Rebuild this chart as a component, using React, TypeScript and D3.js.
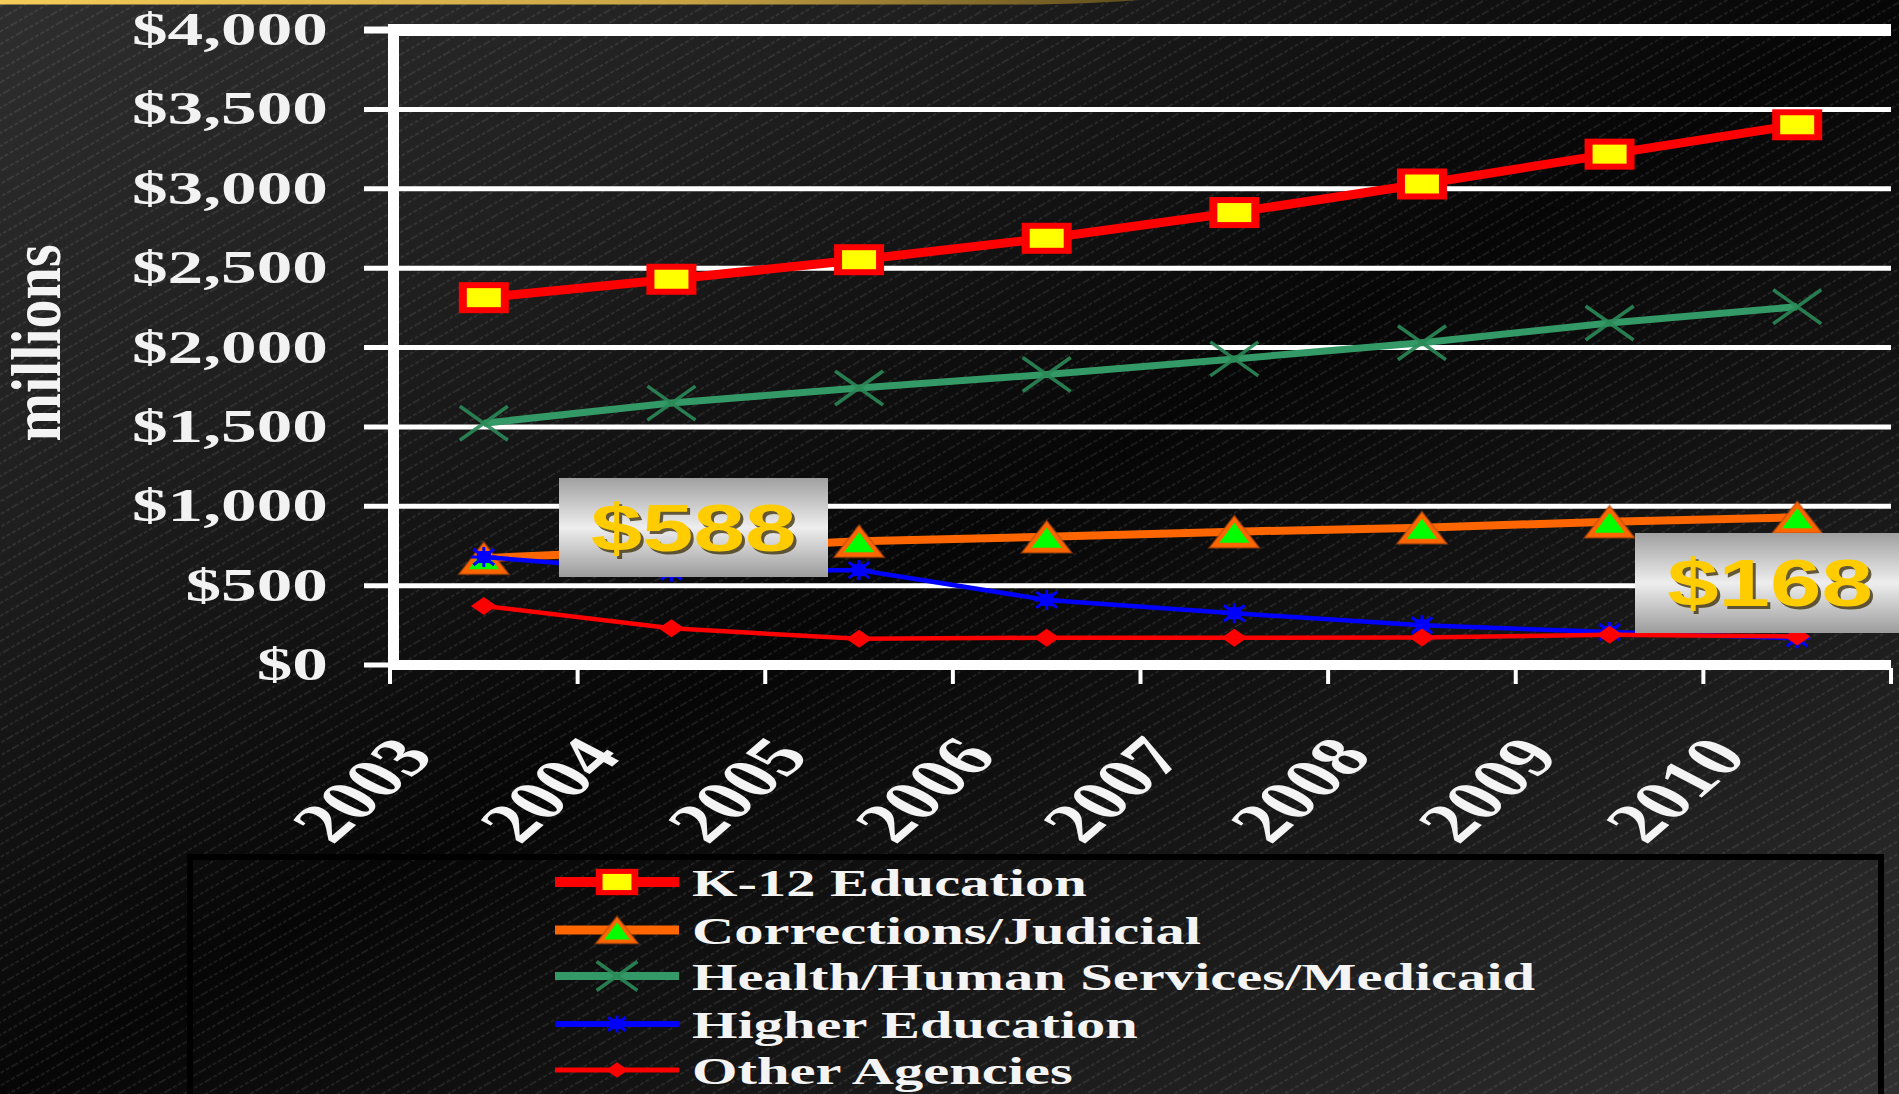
import React from 'react';
import * as d3 from 'd3';

// Fiscal years on the category axis
const years = ['2003', '2004', '2005', '2006', '2007', '2008', '2009', '2010'];

// Spending by area, $ millions
const k12Education = [2314, 2430, 2553, 2688, 2850, 3030, 3218, 3403];
const correctionsJudicial = [673, 725, 780, 808, 840, 865, 903, 930];
const healthHumanServices = [1523, 1650, 1745, 1830, 1928, 2030, 2154, 2257];
const higherEducation = [680, 588, 598, 410, 326, 250, 208, 168];
const otherAgencies = [372, 231, 165, 172, 172, 174, 190, 180];

const yTicks = [0, 500, 1000, 1500, 2000, 2500, 3000, 3500, 4000];

const seriesNames = [
  'K-12 Education',
  'Corrections/Judicial',
  'Health/Human Services/Medicaid',
  'Higher Education',
  'Other Agencies',
];

const W = 1899;
const H = 1094;
const SX = 1.5; // horizontal stretch applied to text glyphs

const x = d3.scaleBand<string>().domain(years).range([390, 1891]);
const y = d3.scaleLinear().domain([0, 4000]).range([665, 30]);
const cx = (yr: string) => (x(yr) as number) + x.bandwidth() / 2;
const money = d3.format('$,');

type Kind = 'square' | 'triangle' | 'cross' | 'star' | 'diamond';

function Marker({ kind, px, py, s = 1 }: { kind: Kind; px: number; py: number; s?: number }) {
  if (kind === 'square') {
    const ow = 50 * s, oh = 31 * s, iw = 34 * s, ih = 19 * s;
    return (
      <g>
        <rect x={px - ow / 2} y={py - oh / 2} width={ow} height={oh} fill="#ff0000" />
        <rect x={px - iw / 2} y={py - ih / 2} width={iw} height={ih} fill="#ffff00" />
      </g>
    );
  }
  if (kind === 'triangle') {
    const hw = 25 * s, hh = 16 * s;
    const ihw = 15 * s, ihh = 10 * s;
    return (
      <g>
        <path d={`M${px},${py - hh} L${px + hw},${py + hh} L${px - hw},${py + hh} Z`} fill="#ff6600" />
        <path d={`M${px},${py - hh} L${px + hw},${py + hh} L${px - hw},${py + hh} Z`} fill="none" stroke="#b04a10" strokeWidth={2} strokeOpacity={0.5} />
        <path d={`M${px},${py - ihh + 1} L${px + ihw},${py + ihh + 1} L${px - ihw},${py + ihh + 1} Z`} fill="#00ff00" />
      </g>
    );
  }
  if (kind === 'cross') {
    const hw = 24 * s, hh = 17 * s;
    return (
      <g stroke="#2a8a58" strokeWidth={3.5} strokeOpacity={0.9}>
        <line x1={px - hw} y1={py - hh} x2={px + hw} y2={py + hh} />
        <line x1={px - hw} y1={py + hh} x2={px + hw} y2={py - hh} />
      </g>
    );
  }
  if (kind === 'star') {
    const hw = 13 * s, hh = 10 * s;
    return (
      <g stroke="#0000ff" strokeWidth={3}>
        <rect x={px - 7 * s} y={py - 6 * s} width={14 * s} height={12 * s} fill="#0000ff" stroke="none" />
        <line x1={px - hw} y1={py} x2={px + hw} y2={py} />
        <line x1={px} y1={py - hh} x2={px} y2={py + hh} />
        <line x1={px - hw * 0.8} y1={py - hh * 0.8} x2={px + hw * 0.8} y2={py + hh * 0.8} />
        <line x1={px - hw * 0.8} y1={py + hh * 0.8} x2={px + hw * 0.8} y2={py - hh * 0.8} />
      </g>
    );
  }
  const hw = 13 * s, hh = 9 * s;
  return <path d={`M${px},${py - hh} L${px + hw},${py} L${px},${py + hh} L${px - hw},${py} Z`} fill="#ff0000" />;
}

const series = [
  { name: seriesNames[0], values: k12Education, color: '#ff0000', width: 9, kind: 'square' as Kind },
  { name: seriesNames[1], values: correctionsJudicial, color: '#ff6600', width: 8, kind: 'triangle' as Kind },
  { name: seriesNames[2], values: healthHumanServices, color: '#339966', width: 7, kind: 'cross' as Kind },
  { name: seriesNames[3], values: higherEducation, color: '#0000ff', width: 4.5, kind: 'star' as Kind },
  { name: seriesNames[4], values: otherAgencies, color: '#ff0000', width: 4.5, kind: 'diamond' as Kind },
];

const legendRows = [882, 930, 976, 1024, 1070];
const legendLineW = [10, 9, 8, 6, 5];

function Callout({ x0, y0, w, h, label }: { x0: number; y0: number; w: number; h: number; label: string }) {
  const tx = x0 + w / 2;
  const ty = y0 + h / 2 + 23;
  return (
    <g>
      <rect x={x0} y={y0} width={w} height={h} fill="url(#calloutFill)" />
      <text transform={`translate(${tx + 3},${ty + 3}) scale(1.4,1)`} textAnchor="middle" fontFamily="Liberation Sans, Arial, sans-serif" fontWeight="bold" fontSize={66} fill="#3a2c00" fillOpacity={0.75}>{label}</text>
      <text transform={`translate(${tx},${ty}) scale(1.4,1)`} textAnchor="middle" fontFamily="Liberation Sans, Arial, sans-serif" fontWeight="bold" fontSize={66} fill="#ffcc00">{label}</text>
    </g>
  );
}

export default function App() {
  const line = d3.line<number>().x((_, i) => cx(years[i])).y((v) => y(v));
  const plotL = 390, plotR = 1891;

  return (
    <svg width={W} height={H} viewBox={`0 0 ${W} ${H}`} style={{ position: 'absolute', left: 0, top: 0, display: 'block' }}>
      <defs>
        <linearGradient id="bg" x1="0" y1="0" x2="1" y2="1">
          <stop offset="0" stopColor="#2e2e2e" />
          <stop offset="0.25" stopColor="#1e1e1e" />
          <stop offset="0.5" stopColor="#060606" />
          <stop offset="0.75" stopColor="#1a1a1a" />
          <stop offset="1" stopColor="#303030" />
        </linearGradient>
        <pattern id="stripes" patternUnits="userSpaceOnUse" width="40" height="11" patternTransform="rotate(-30)">
          <line x1="0" y1="5.5" x2="40" y2="5.5" stroke="#ffffff" strokeOpacity="0.11" strokeWidth="1.6" strokeDasharray="4 2" />
        </pattern>
        <linearGradient id="gold" x1="0" y1="0" x2="1" y2="0">
          <stop offset="0" stopColor="#f4cc58" />
          <stop offset="0.6" stopColor="#c9a445" />
          <stop offset="1" stopColor="#5e4d1c" />
        </linearGradient>
        <linearGradient id="calloutFill" x1="0" y1="0" x2="0" y2="1">
          <stop offset="0" stopColor="#a0a0a0" />
          <stop offset="0.5" stopColor="#eeeeee" />
          <stop offset="1" stopColor="#9c9c9c" />
        </linearGradient>
      </defs>

      {/* backdrop */}
      <rect x={0} y={0} width={W} height={H} fill="url(#bg)" />
      <rect x={0} y={0} width={W} height={H} fill="url(#stripes)" />
      <path d="M0,0 H1140 Q1100,3 1040,4.5 H0 Z" fill="url(#gold)" />

      {/* legend frame */}
      <rect x={190} y={857} width={1691} height={260} fill="none" stroke="#000" strokeWidth={6} />

      {/* y axis title */}
      <text transform="translate(60,343) scale(1.25,1) rotate(-90)" textAnchor="middle" fontFamily="Liberation Serif, Times New Roman, serif" fontWeight="bold" fontSize={56} fill="#f4f4f4" textLength={197} lengthAdjust="spacingAndGlyphs">millions</text>

      {/* gridlines with tick stubs */}
      {yTicks.map((t) => (
        <line key={t} x1={364} x2={plotR} y1={y(t)} y2={y(t)} stroke="#fff" strokeWidth={t === 4000 ? 7 : 5} />
      ))}
      <line x1={393} x2={plotR} y1={30} y2={30} stroke="#fff" strokeWidth={12} />

      {/* y labels */}
      {yTicks.map((t) => (
        <text key={t} transform={`translate(328,${y(t) + 15}) scale(1.55,1)`} textAnchor="end" fontFamily="Liberation Serif, Times New Roman, serif" fontWeight="bold" fontSize={46} fill="#f2f2f2">{money(t)}</text>
      ))}

      {/* axes */}
      <line x1={393.5} x2={393.5} y1={24} y2={670} stroke="#fff" strokeWidth={11} />
      <line x1={388} x2={plotR} y1={665} y2={665} stroke="#fff" strokeWidth={10} />
      {d3.range(years.length + 1).map((i) => {
        const tx = plotL + i * x.bandwidth();
        return <line key={i} x1={tx} x2={tx} y1={668} y2={684} stroke="#fff" strokeWidth={4} />;
      })}

      {/* x labels */}
      {years.map((yr) => (
        <text key={yr} transform={`translate(${cx(yr) - 48},757) scale(${SX},1) rotate(-52)`} textAnchor="end" fontFamily="Liberation Serif, Times New Roman, serif" fontWeight="bold" fontSize={56} fill="#f4f4f4">{yr}</text>
      ))}

      {/* series */}
      {series.map((s) => (
        <g key={s.name}>
          <path d={line(s.values) as string} fill="none" stroke={s.color} strokeWidth={s.width} strokeLinejoin="round" />
          {s.values.map((v, i) => (
            <Marker key={i} kind={s.kind} px={cx(years[i])} py={y(v)} />
          ))}
        </g>
      ))}

      {/* value call-outs */}
      <Callout x0={559} y0={478} w={269} h={99} label={money(higherEducation[1])} />
      <Callout x0={1635} y0={533} w={270} h={100} label={money(higherEducation[7])} />

      {/* legend entries */}
      {series.map((s, i) => (
        <g key={s.name}>
          <line x1={555} x2={679} y1={legendRows[i]} y2={legendRows[i]} stroke={s.color} strokeWidth={legendLineW[i]} />
          <Marker kind={s.kind} px={617} py={legendRows[i]} s={0.85} />
          <text transform={`translate(692,${legendRows[i] + 14}) scale(${SX},1)`} fontFamily="Liberation Serif, Times New Roman, serif" fontWeight="bold" fontSize={39} fill="#f4f4f4">{s.name}</text>
        </g>
      ))}
    </svg>
  );
}
